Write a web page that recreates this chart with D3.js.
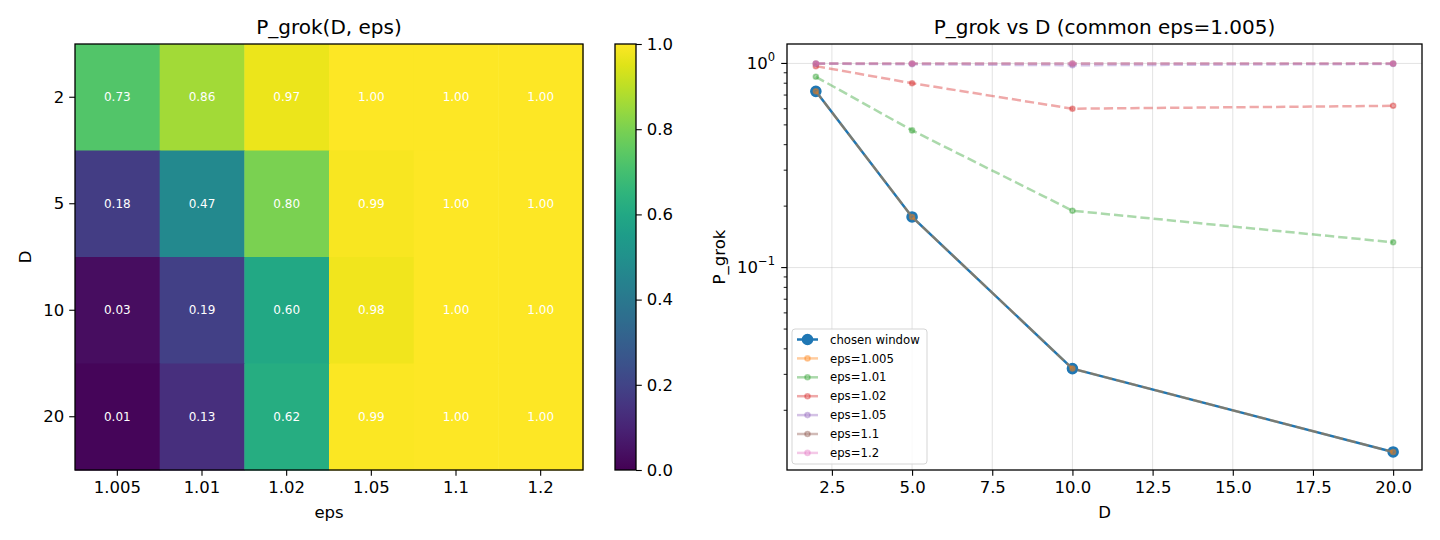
<!DOCTYPE html>
<html>
<head>
<meta charset="utf-8">
<script src="https://cdn.jsdelivr.net/npm/d3@7"></script>
<style>
  body { margin: 0; background: #fff; }
  svg { font-family: "DejaVu Sans", sans-serif; }
</style>
</head>
<body>
<script>
// Data
var dims = [2, 5, 10, 20];
var epsLabels = ["1.005", "1.01", "1.02", "1.05", "1.1", "1.2"];

// P_grok for each eps, one value per D
var pEps1005 = [0.73, 0.177, 0.032, 0.0125];
var pEps101  = [0.86, 0.47, 0.19, 0.133];
var pEps102  = [0.97, 0.80, 0.60, 0.62];
var pEps105  = [0.997, 0.99, 0.98, 0.994];
var pEps11   = [1.0, 1.0, 1.0, 1.0];
var pEps12   = [1.0, 1.0, 1.0, 1.0];

// the "chosen window" series (common eps = 1.005)
var chosenWindow = [0.73, 0.177, 0.032, 0.0125];

var epsSeries = [pEps1005, pEps101, pEps102, pEps105, pEps11, pEps12];
var seriesColors = ["#ff7f0e", "#2ca02c", "#d62728", "#9467bd", "#8c564b", "#e377c2"];
var colorbarTicks = [0, 0.2, 0.4, 0.6, 0.8, 1.0];
var xTicks = [2.5, 5, 7.5, 10, 12.5, 15, 17.5, 20];

var svg = d3.select("body").append("svg")
  .attr("width", 1440)
  .attr("height", 540);

var tickFont = 16.5;

// ---------------- left panel: heatmap ----------------
var hm = { left: 75, right: 583, top: 44, bottom: 470 };

var xBand = d3.scaleBand().domain(epsLabels).range([hm.left, hm.right]);
var yBand = d3.scaleBand().domain(dims).range([hm.top, hm.bottom]);
var viridis = d3.scaleSequential(d3.interpolateViridis).domain([0, 1]);

// flatten the eps columns into cells
var cells = [];
dims.forEach(function(d, i) {
  epsLabels.forEach(function(e, j) {
    cells.push({ D: d, eps: e, v: epsSeries[j][i] });
  });
});

svg.append("g").selectAll("rect")
  .data(cells)
  .enter()
  .append("rect")
  .attr("x", function(c) { return xBand(c.eps); })
  .attr("y", function(c) { return yBand(c.D); })
  .attr("width", xBand.bandwidth() + 0.5)
  .attr("height", yBand.bandwidth() + 0.5)
  .attr("fill", function(c) { return viridis(c.v); });

svg.append("g").selectAll("text")
  .data(cells)
  .enter()
  .append("text")
  .attr("x", function(c) { return xBand(c.eps) + xBand.bandwidth() / 2; })
  .attr("y", function(c) { return yBand(c.D) + yBand.bandwidth() / 2; })
  .attr("dy", "0.35em")
  .attr("text-anchor", "middle")
  .attr("font-size", 12)
  .attr("fill", "#fff")
  .text(function(c) { return c.v.toFixed(2); });

// axes for the heatmap
var hmX = svg.append("g")
  .attr("transform", "translate(0," + hm.bottom + ")")
  .call(d3.axisBottom(xBand).tickSize(5.8).tickPadding(5));
var hmY = svg.append("g")
  .attr("transform", "translate(" + hm.left + ",0)")
  .call(d3.axisLeft(yBand).tickSize(5.8).tickPadding(5));
[hmX, hmY].forEach(function(g) {
  g.select(".domain").remove();
  g.selectAll("text").attr("font-size", tickFont).attr("font-family", "DejaVu Sans").attr("fill", "#000");
  g.selectAll("line").attr("stroke", "#000").attr("stroke-width", 1.1);
});

svg.append("rect")
  .attr("x", hm.left).attr("y", hm.top)
  .attr("width", hm.right - hm.left).attr("height", hm.bottom - hm.top)
  .attr("fill", "none").attr("stroke", "#000").attr("stroke-width", 1.3);

svg.append("text")
  .attr("x", (hm.left + hm.right) / 2).attr("y", 34)
  .attr("text-anchor", "middle").attr("font-size", 20)
  .text("P_grok(D, eps)");
svg.append("text")
  .attr("x", (hm.left + hm.right) / 2).attr("y", 518)
  .attr("text-anchor", "middle").attr("font-size", tickFont)
  .text("eps");
svg.append("text")
  .attr("transform", "translate(31," + (hm.top + hm.bottom) / 2 + ") rotate(-90)")
  .attr("text-anchor", "middle").attr("font-size", tickFont)
  .text("D");

// colorbar
var cb = { left: 615, right: 636, top: 44, bottom: 470 };
var cbScale = d3.scaleLinear().domain([0, 1]).range([cb.bottom, cb.top]);

var grad = svg.append("defs").append("linearGradient")
  .attr("id", "viridisGrad")
  .attr("x1", 0).attr("y1", 1).attr("x2", 0).attr("y2", 0);
grad.selectAll("stop")
  .data(d3.range(0, 1.0001, 0.05))
  .enter()
  .append("stop")
  .attr("offset", function(t) { return t; })
  .attr("stop-color", function(t) { return viridis(t); });

svg.append("rect")
  .attr("x", cb.left).attr("y", cb.top)
  .attr("width", cb.right - cb.left).attr("height", cb.bottom - cb.top)
  .attr("fill", "url(#viridisGrad)")
  .attr("stroke", "#000").attr("stroke-width", 1.3);

var cbAxis = svg.append("g")
  .attr("transform", "translate(" + cb.right + ",0)")
  .call(d3.axisRight(cbScale).tickValues(colorbarTicks).tickFormat(d3.format(".1f")).tickSize(5.8).tickPadding(5));
cbAxis.select(".domain").remove();
cbAxis.selectAll("text").attr("font-size", tickFont).attr("font-family", "DejaVu Sans").attr("fill", "#000");
cbAxis.selectAll("line").attr("stroke", "#000").attr("stroke-width", 1.1);

// ---------------- right panel: P_grok vs D ----------------
var lp = { left: 787, right: 1422, top: 44, bottom: 470 };

var x = d3.scaleLinear().domain([1.1, 20.9]).range([lp.left, lp.right]);
var y = d3.scaleLog().domain([0.0102, 1.245]).range([lp.bottom, lp.top]);

// grid lines on major ticks
var grid = svg.append("g").attr("stroke", "#b0b0b0").attr("stroke-opacity", 0.35).attr("stroke-width", 1);
grid.selectAll("line.gx")
  .data(xTicks)
  .enter()
  .append("line")
  .attr("x1", function(d) { return x(d); }).attr("x2", function(d) { return x(d); })
  .attr("y1", lp.top).attr("y2", lp.bottom);
grid.selectAll("line.gy")
  .data([0.1, 1])
  .enter()
  .append("line")
  .attr("x1", lp.left).attr("x2", lp.right)
  .attr("y1", function(d) { return y(d); }).attr("y2", function(d) { return y(d); });

var line = d3.line()
  .x(function(d, i) { return x(dims[i]); })
  .y(function(d) { return y(d); });

// chosen window: solid blue with big markers
svg.append("path")
  .datum(chosenWindow)
  .attr("d", line)
  .attr("fill", "none")
  .attr("stroke", "#1f77b4")
  .attr("stroke-width", 2.5);
svg.append("g").selectAll("circle")
  .data(chosenWindow)
  .enter()
  .append("circle")
  .attr("cx", function(d, i) { return x(dims[i]); })
  .attr("cy", function(d) { return y(d); })
  .attr("r", 5)
  .attr("fill", "#1f77b4")
  .attr("stroke", "#1f77b4")
  .attr("stroke-width", 1.6);

// eps series: dashed, translucent
epsSeries.forEach(function(vals, k) {
  var g = svg.append("g");
  g.append("path")
    .datum(vals)
    .attr("d", line)
    .attr("fill", "none")
    .attr("stroke", seriesColors[k])
    .attr("stroke-opacity", 0.4)
    .attr("stroke-width", 2.5)
    .attr("stroke-dasharray", "9.25,4");
  g.selectAll("circle")
    .data(vals)
    .enter()
    .append("circle")
    .attr("cx", function(d, i) { return x(dims[i]); })
    .attr("cy", function(d) { return y(d); })
    .attr("r", 2.5)
    .attr("fill", seriesColors[k])
    .attr("fill-opacity", 0.4)
    .attr("stroke", seriesColors[k])
    .attr("stroke-opacity", 0.4)
    .attr("stroke-width", 1.6);
});

// x axis
var lx = svg.append("g")
  .attr("transform", "translate(0," + lp.bottom + ")")
  .call(d3.axisBottom(x).tickValues(xTicks).tickFormat(d3.format(".1f")).tickSize(5.8).tickPadding(5));
lx.select(".domain").remove();
lx.selectAll("text").attr("font-size", tickFont).attr("font-family", "DejaVu Sans").attr("fill", "#000");
lx.selectAll("line").attr("stroke", "#000").attr("stroke-width", 1.1);

// y axis (log): major ticks with superscript labels, minor ticks without labels
var minorTicks = [];
[0.01, 0.1].forEach(function(base) {
  for (var m = 2; m <= 9; m++) {
    var v = base * m;
    if (v >= y.domain()[0] && v <= y.domain()[1]) minorTicks.push(v);
  }
});
var ly = svg.append("g").attr("transform", "translate(" + lp.left + ",0)");
ly.selectAll("line.minor")
  .data(minorTicks)
  .enter()
  .append("line")
  .attr("x1", -3.3).attr("x2", 0)
  .attr("y1", function(d) { return y(d); }).attr("y2", function(d) { return y(d); })
  .attr("stroke", "#000").attr("stroke-width", 0.9);
var majors = ly.selectAll("g.major")
  .data([{ v: 1, e: "0" }, { v: 0.1, e: "\u22121" }])
  .enter()
  .append("g")
  .attr("transform", function(d) { return "translate(0," + y(d.v) + ")"; });
majors.append("line")
  .attr("x1", -5.8).attr("x2", 0)
  .attr("stroke", "#000").attr("stroke-width", 1.1);
var lbl = majors.append("text")
  .attr("x", -12)
  .attr("dy", "0.35em")
  .attr("text-anchor", "end")
  .attr("font-size", tickFont);
lbl.append("tspan").text("10");
lbl.append("tspan")
  .attr("font-size", 11.5)
  .attr("dy", "-0.75em")
  .text(function(d) { return d.e; });

svg.append("rect")
  .attr("x", lp.left).attr("y", lp.top)
  .attr("width", lp.right - lp.left).attr("height", lp.bottom - lp.top)
  .attr("fill", "none").attr("stroke", "#000").attr("stroke-width", 1.3);

svg.append("text")
  .attr("x", (lp.left + lp.right) / 2).attr("y", 34)
  .attr("text-anchor", "middle").attr("font-size", 20)
  .text("P_grok vs D (common eps=1.005)");
svg.append("text")
  .attr("x", (lp.left + lp.right) / 2).attr("y", 518)
  .attr("text-anchor", "middle").attr("font-size", tickFont)
  .text("D");
svg.append("text")
  .attr("transform", "translate(725," + (lp.top + lp.bottom) / 2 + ") rotate(-90)")
  .attr("text-anchor", "middle").attr("font-size", tickFont)
  .text("P_grok");

// legend
var legendItems = [{ label: "chosen window", color: "#1f77b4", main: true }];
epsLabels.forEach(function(e, k) {
  legendItems.push({ label: "eps=" + e, color: seriesColors[k], main: false });
});

var legend = svg.append("g").attr("transform", "translate(792,329)");
legend.append("rect")
  .attr("width", 135).attr("height", 135)
  .attr("rx", 3)
  .attr("fill", "#fff").attr("fill-opacity", 0.8)
  .attr("stroke", "#d5d5d5").attr("stroke-width", 1);

var rows = legend.selectAll("g.row")
  .data(legendItems)
  .enter()
  .append("g")
  .attr("transform", function(d, i) { return "translate(0," + (10.5 + i * 18.9) + ")"; });
rows.append("line")
  .attr("x1", 5).attr("x2", 26)
  .attr("stroke", function(d) { return d.color; })
  .attr("stroke-opacity", function(d) { return d.main ? 1 : 0.4; })
  .attr("stroke-width", 2.5);
rows.append("circle")
  .attr("cx", 15.5)
  .attr("r", function(d) { return d.main ? 5 : 2.5; })
  .attr("fill", function(d) { return d.color; })
  .attr("fill-opacity", function(d) { return d.main ? 1 : 0.25; })
  .attr("stroke", function(d) { return d.color; })
  .attr("stroke-opacity", function(d) { return d.main ? 1 : 0.4; })
  .attr("stroke-width", 1.6);
rows.append("text")
  .attr("x", 38)
  .attr("dy", "0.35em")
  .attr("font-size", 11.7)
  .text(function(d) { return d.label; });
</script>
</body>
</html>
